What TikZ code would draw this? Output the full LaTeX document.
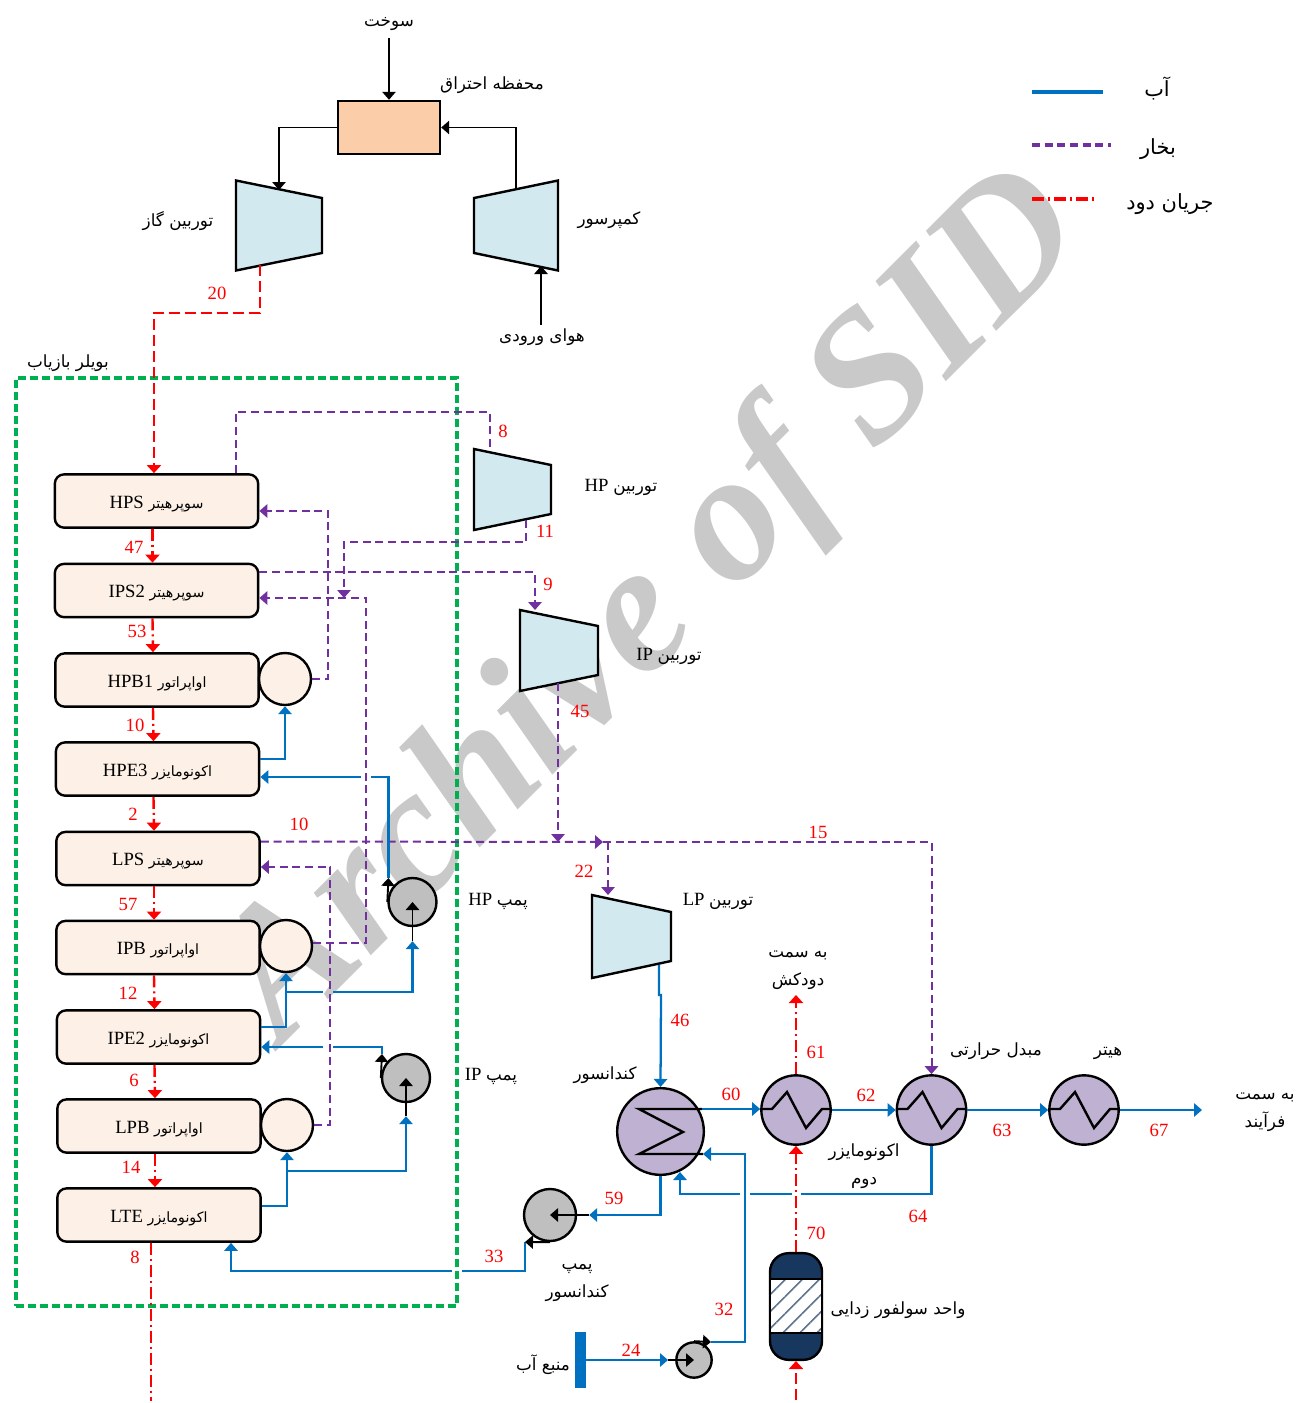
\documentclass[tikz,border=0pt]{standalone}
\usepackage{fontspec}
\setmainfont{Liberation Serif}
\newfontfamily\arabicfont[Script=Arabic,Scale=0.9]{DejaVu Sans}
\newfontfamily\arabicbox[Script=Arabic,Scale=0.76]{DejaVu Sans}
\newfontfamily\arabickey[Script=Arabic,Scale=1.12]{DejaVu Sans}
\TeXXeTstate=1
\newcommand{\fa}[1]{{\arabicfont\beginR #1\endR}}
\newcommand{\fb}[1]{{\arabicbox\beginR #1\endR}}
\newcommand{\fk}[1]{{\arabickey\beginR #1\endR}}
\usetikzlibrary{arrows.meta,patterns.meta,calc}
\definecolor{water}{HTML}{0070C0}
\definecolor{steam}{HTML}{7030A0}
\definecolor{flue}{HTML}{FF0000}
\definecolor{hull}{HTML}{00B050}
\definecolor{bank}{HTML}{FDF0E6}
\definecolor{burner}{HTML}{FBCDA8}
\definecolor{rotor}{HTML}{D2E9EF}
\definecolor{shell}{HTML}{BFB1D2}
\definecolor{pumpgray}{HTML}{BFBFBF}
\definecolor{navy}{HTML}{17375E}
\definecolor{stampgray}{HTML}{C9C9C9}
\tikzset{
  stagebox/.style={draw=black,rounded corners=7pt,line width=1.8pt,fill=bank,minimum width=152.5pt,minimum height=40pt,inner sep=0pt,text height=12pt,text depth=1pt},
  drum/.style={draw=black,circle,line width=1.8pt,fill=bank,minimum size=39pt,inner sep=0pt},
  pumpnode/.style={draw=black,circle,line width=1.8pt,fill=pumpgray,minimum size=36pt,inner sep=0pt},
  hexnode/.style={draw=black,circle,line width=1.8pt,fill=shell,minimum size=52pt,inner sep=0pt},
  anchorbox/.style={inner sep=0pt,minimum size=0pt},
  coilline/.style={line width=1.8pt,draw=black},
  gasline/.style={-{Triangle[length=6pt,width=10pt]},line width=1.4pt,draw=black},
  waterline/.style={-{Triangle[length=6pt,width=10pt]},line width=1.7pt,draw=water},
  steamline/.style={-{Triangle[length=6pt,width=10pt]},line width=1.5pt,draw=steam,dash pattern=on 6pt off 3.5pt},
  flueline/.style={-{Triangle[length=6pt,width=10.5pt]},line width=1.8pt,draw=flue,dash pattern=on 8pt off 4pt},
  stackline/.style={-{Triangle[length=6pt,width=10.5pt]},line width=1.8pt,draw=flue,dash pattern=on 9pt off 3pt on 1.5pt off 3pt},
  numtag/.style={text=flue,inner sep=0pt},
  caption/.style={inner sep=0pt,align=center,yshift=-1.2pt}
}

\begin{document}
\begin{tikzpicture}[x=.75pt,y=-.75pt,font=\fontsize{14}{20}\selectfont]
  \useasboundingbox (0,0) rectangle (1298,1403);
  % Stamp across the sheet.
  \node[text=stampgray,rotate=45,inner sep=0pt,font=\fontsize{138}{140}\selectfont\bfseries\itshape] (stampmark) at (655,609) {Archive of SID};

  % Boiler outline.
  \node[draw=hull,line width=3pt,dash pattern=on 6pt off 3pt,minimum width=330.75pt,minimum height=696pt,inner sep=0pt] (boiler) at (236.5,842) {};

  % Gas turbine set.
  \node[draw=black,line width=1.8pt,fill=burner,minimum width=76.5pt,minimum height=39.75pt,inner sep=0pt] (burn) at (389,127.5) {};
  \foreach \nm/\x/\y/\w/\hl/\hr in {gast/279/225.5/86/45/27.5,compr/516/225.5/84/27.5/45,hpt/512.5/489.5/77/40.5/24.5,ipt/559/650.5/78/40.5/24.5,lpt/631.5/936.5/79/41.5/24.5}{
    \draw[line width=1.8pt,fill=rotor,line join=miter] (\x-\w/2,\y-\hl) -- (\x+\w/2,\y-\hr) -- (\x+\w/2,\y+\hr) -- (\x-\w/2,\y+\hl) -- cycle;
    \node[anchorbox] (\nm) at (\x,\y) {};
  }

  % Boiler bank, top to bottom.
  \foreach \nm/\x/\y/\lbl in {hps/156.5/501/{HPS \fb{سوپرهیتر}},ips/156.5/590.5/{IPS2 \fb{سوپرهیتر}},hpb/157/680/{HPB1 \fb{اواپراتور}},hpe/157.5/769/{HPE3 \fb{اکونومایزر}},lps/158/858.5/{LPS \fb{سوپرهیتر}},ipb/158/947.5/{IPB \fb{اواپراتور}},ipe/158.5/1037/{IPE2 \fb{اکونومایزر}},lpb/159/1126/{LPB \fb{اواپراتور}},lte/159/1215/{LTE \fb{اکونومایزر}}}{
    \node[stagebox] (\nm) at (\x,\y) {\lbl};
  }
  \node[drum] (drumhp) at (285,679) {};
  \node[drum] (drumip) at (286,946) {};
  \node[drum] (drumlp) at (287,1125) {};

  % Pumps.
  \node[pumpnode] (pumphp) at (412.5,902) {};
  \node[pumpnode] (pumpip) at (406,1078) {};
  \node[pumpnode,minimum size=39pt] (pumpcd) at (550,1215) {};
  \node[pumpnode,minimum size=26.5pt] (pumpwt) at (694,1360) {};
  \node[fill=water,minimum width=8pt,minimum height=42.5pt,inner sep=0pt] (source) at (580.5,1360) {};

  % Heat exchangers.
  \node[hexnode,minimum size=65pt] (cond) at (660.5,1131.5) {};
  \node[hexnode] (econ) at (796,1110) {};
  \node[hexnode] (exch) at (931.5,1110) {};
  \node[hexnode] (heat) at (1084,1110) {};
  \foreach \nm in {econ,exch,heat}{
    \draw[coilline] ([shift={(-34,-1)}]\nm.center) -- ++(10,0) -- ++(15,-17) -- ++(19,36) -- ++(16,-19) -- ++(8,0);
  }
  \coordinate (condout) at (702,1109);
  \coordinate (condin) at (703,1154);
  \draw[coilline] (condout) -- (639,1109) -- (683,1132) -- (639,1154) -- (condin);

  % Desulphurisation column.
  \node[draw=black,line width=1.8pt,fill=navy,rounded corners=14pt,minimum width=39pt,minimum height=80pt,inner sep=0pt] (desox) at (796,1306.5) {};
  \node[draw=black,line width=1.8pt,preaction={fill=white},pattern={Lines[angle=45,distance=9pt,line width=1.2pt]},pattern color=navy!70,minimum width=39pt,minimum height=40.5pt,inner sep=0pt] (bed) at (796,1306) {};

  % Named free ends and line breaks.
  \coordinate (fuelin) at (389,38);
  \coordinate (gastin) at (279,190);
  \coordinate (comprout) at (516,190);
  \coordinate (airin) at (541,325);
  \coordinate (airtip) at (541,266);
  \coordinate (gastout) at (260,265);
  \coordinate (hptin) at (490,449);
  \coordinate (hptout) at (526,520);
  \coordinate (reheat) at (344,598);
  \coordinate (iptin) at (535,610);
  \coordinate (iptout) at (558,683);
  \coordinate (lpjoin) at (603,842);
  \coordinate (lptap) at (608,842);
  \coordinate (lptin) at (608,895);
  \coordinate (lptout) at (659,965);
  \coordinate (hpout) at (388.5,878);
  \coordinate (ipout) at (382,1054);
  \coordinate (cdout) at (525,1242);
  \coordinate (wtout) at (711,1342);
  \coordinate (condret) at (680,1172);
  \coordinate (procout) at (1202,1110);
  \coordinate (stack) at (796,995);
  \coordinate (fluein) at (796,1400);
  \coordinate (hpgapa) at (371,777);
  \coordinate (hpgapb) at (361,777);
  \coordinate (ipgapa) at (333,1047);
  \coordinate (ipgapb) at (323,1047);
  \coordinate (fdgapa) at (323,992);
  \coordinate (fdgapb) at (333,992);
  \coordinate (cdgapa) at (462,1271);
  \coordinate (cdgapb) at (452,1271);
  \coordinate (retgapa) at (801,1194);
  \coordinate (retgapb) at (792,1194);
  \coordinate (retgapc) at (750,1194);
  \coordinate (retgapd) at (740,1194);

  % Air, fuel and exhaust.
  \draw[gasline] (fuelin) -- (burn.north);
  \draw[gasline] (burn.west) -| (gastin);
  \draw[gasline] (comprout) |- (burn.east);
  \draw[gasline] (airin) -- (airtip);
  \draw[flueline] (gastout) -- ++(0,48) -| ([xshift=-1.9pt]hps.north);

  % Flue gas down the bank.
  \foreach \a/\b in {hps/ips,ips/hpb,hpb/hpe,hpe/lps,lps/ipb,ipb/ipe,ipe/lpb,lpb/lte}{
    \draw[stackline] ([xshift=-3pt]\a.south) -- ([xshift=-3pt]\b.north);
  }
  \draw[stackline,-] ([xshift=-6pt]lte.south) -- ++(0,158);
  \draw[stackline] (econ.north) -- (stack);
  \draw[stackline] (desox.north) -- (econ.south);
  \draw[flueline] (fluein) -- (desox.south);

  % Steam.
  \draw[steamline,-] ([xshift=59.6pt]hps.north) -- ++(0,-61) -| (hptin);
  \draw[steamline] (drumhp.east) -- ++(16,0) |- ([shift={(0,10)}]hps.east);
  \draw[steamline] (hptout) -- ++(0,22) -| (reheat);
  \draw[steamline] ([shift={(0,-18.5)}]ips.east) -| (iptin);
  \draw[steamline] ([shift={(0,-3)}]drumip.east) -- ++(53,0) |- ([shift={(0,7.5)}]ips.east);
  \draw[steamline] ([shift={(0,-17)}]lps.east) -- (lpjoin);
  \draw[steamline] (lpjoin) -| (exch.north);
  \draw[steamline] (lptap) -- (lptin);
  \draw[steamline] (iptout) -- (iptout |- lpjoin);
  \draw[steamline] (drumlp.east) -- ++(16,0) |- ([shift={(0,8.5)}]lps.east);

  % Feed water.
  \draw[waterline] ([shift={(0,-10)}]hpe.east) -| (drumhp.south);
  \draw[waterline] (hpout) |- (hpgapa) (hpgapb) -- ([shift={(0,8)}]hpe.east);
  \draw[waterline] ([shift={(0,-10)}]ipe.east) -| (drumip.south);
  \draw[waterline] (drumip.south |- fdgapa) -- (fdgapa) (fdgapb) -| ([shift={(0,14)}]pumphp.south);
  \draw[waterline] (ipout) |- (ipgapa) (ipgapb) -- ([shift={(0,10)}]ipe.east);
  \draw[waterline] ([shift={(0,-9)}]lte.east) -| (drumlp.south);
  \draw[waterline] ([shift={(0,19)}]drumlp.south) -| ([shift={(0,13)}]pumpip.south);
  \draw[waterline] (cond.south) |- ([shift={(12,0)}]pumpcd.east);
  \draw[waterline] (cdout) |- (cdgapa) (cdgapb) -| ([shift={(72,0)}]lte.south);
  \draw[waterline] (source.east) -- ([shift={(-26,0)}]pumpwt.center);
  \draw[waterline] (wtout) -- ++(34,0) |- (condin);
  \draw[waterline] (lptout) -- ++(0,30) -- ++(2,0) -- (cond.north);
  \draw[waterline] (condout) -- (condout -| econ.west);
  \draw[waterline] (econ.east) -- (exch.west);
  \draw[waterline] (exch.east) -- (heat.west);
  \draw[waterline] (heat.east) -- (procout);
  \draw[waterline] (exch.south) |- (retgapa) (retgapb) -- (retgapc) (retgapd) -| (condret);

  % Pump shafts and outlets.
  \draw[gasline] ([shift={(0,14)}]pumphp.south) -- (pumphp.center);
  \draw[gasline] (pumphp.west) -- (hpout);
  \draw[gasline] ([shift={(0,13)}]pumpip.south) -- (pumpip.center);
  \draw[gasline] (pumpip.west) -- (ipout);
  \draw[gasline] ([shift={(12,0)}]pumpcd.east) -- (pumpcd.center);
  \draw[gasline] (pumpcd.south) -- (cdout);
  \draw[gasline] ([shift={(-26,0)}]pumpwt.center) -- (pumpwt.center);
  \draw[gasline] (pumpwt.north) -- (wtout);

  % Legend.
  \coordinate (keywa) at (1032,92);  \coordinate (keywb) at (1103,92);
  \coordinate (keysa) at (1032,145); \coordinate (keysb) at (1111,145);
  \coordinate (keyfa) at (1032,199); \coordinate (keyfb) at (1097,199);
  \draw[waterline,-,line width=2.3pt] (keywa) -- (keywb);
  \draw[steamline,-,line width=2.3pt] (keysa) -- (keysb);
  \draw[stackline,-,line width=2.3pt] (keyfa) -- (keyfb);
  \node[caption] (keyw) at (1157,87) {\fk{آب}};
  \node[caption] (keys) at (1158,148) {\fk{بخار}};
  \node[caption] (keyf) at (1170,203) {\fk{جریان دود}};

  % Equipment names.
  \node[caption] (nfuel) at (389,22) {\fa{سوخت}};
  \node[caption] (nburn) at (492,84) {\fa{محفظه احتراق}};
  \node[caption] (ngast) at (178,219) {\fa{توربین گاز}};
  \node[caption] (ncompr) at (609,219) {\fa{کمپرسور}};
  \node[caption] (nair) at (542,336) {\fa{هوای ورودی}};
  \node[caption] (nboiler) at (68,362) {\fa{بویلر بازیاب}};
  \node[caption] (nhpt) at (621,486) {HP \fa{توربین}};
  \node[caption] (nipt) at (669,655) {IP \fa{توربین}};
  \node[caption] (nlpt) at (718,900) {LP \fa{توربین}};
  \node[caption] (nhpp) at (498,900) {HP \fa{پمپ}};
  \node[caption] (nipp) at (491,1075) {IP \fa{پمپ}};
  \node[caption] (ncond) at (605,1074) {\fa{کندانسور}};
  \node[caption] (ncdp) at (577,1281) {\fa{پمپ}\\[1pt]\fa{کندانسور}};
  \node[caption] (nstack) at (798,969) {\fa{به سمت}\\[1pt]\fa{دودکش}};
  \node[caption] (nexch) at (996,1050) {\fa{مبدل حرارتی}};
  \node[caption] (nheat) at (1108,1052) {\fa{هیتر}};
  \node[caption] (nproc) at (1265,1111) {\fa{به سمت}\\[1pt]\fa{فرآیند}};
  \node[caption] (necon) at (864,1165) {\fa{اکونومایزر}\\[1pt]\fa{دوم}};
  \node[caption] (ndesox) at (898,1309) {\fa{واحد سولفور زدایی}};
  \node[caption] (nsource) at (543,1363) {\fa{منبع آب}};

  % Stream numbers.
  \foreach \t/\x/\y in {20/217/293,47/134/547,53/137/631,10/135/725,2/133/814,10/299/824,57/128/904,12/128/993,6/134/1080,14/131/1167,8/135/1257,8/503/431,11/545/531,9/548/584,45/580/711,22/584/871,15/818/832,46/680/1020,61/816/1052,60/731/1094,62/866/1095,63/1002/1130,67/1159/1130,59/614/1198,64/918/1216,70/816/1233,33/494/1256,32/724/1309,24/631/1350}{
    \node[numtag] at (\x,\y) {\t};
  }
\end{tikzpicture}
\end{document}
